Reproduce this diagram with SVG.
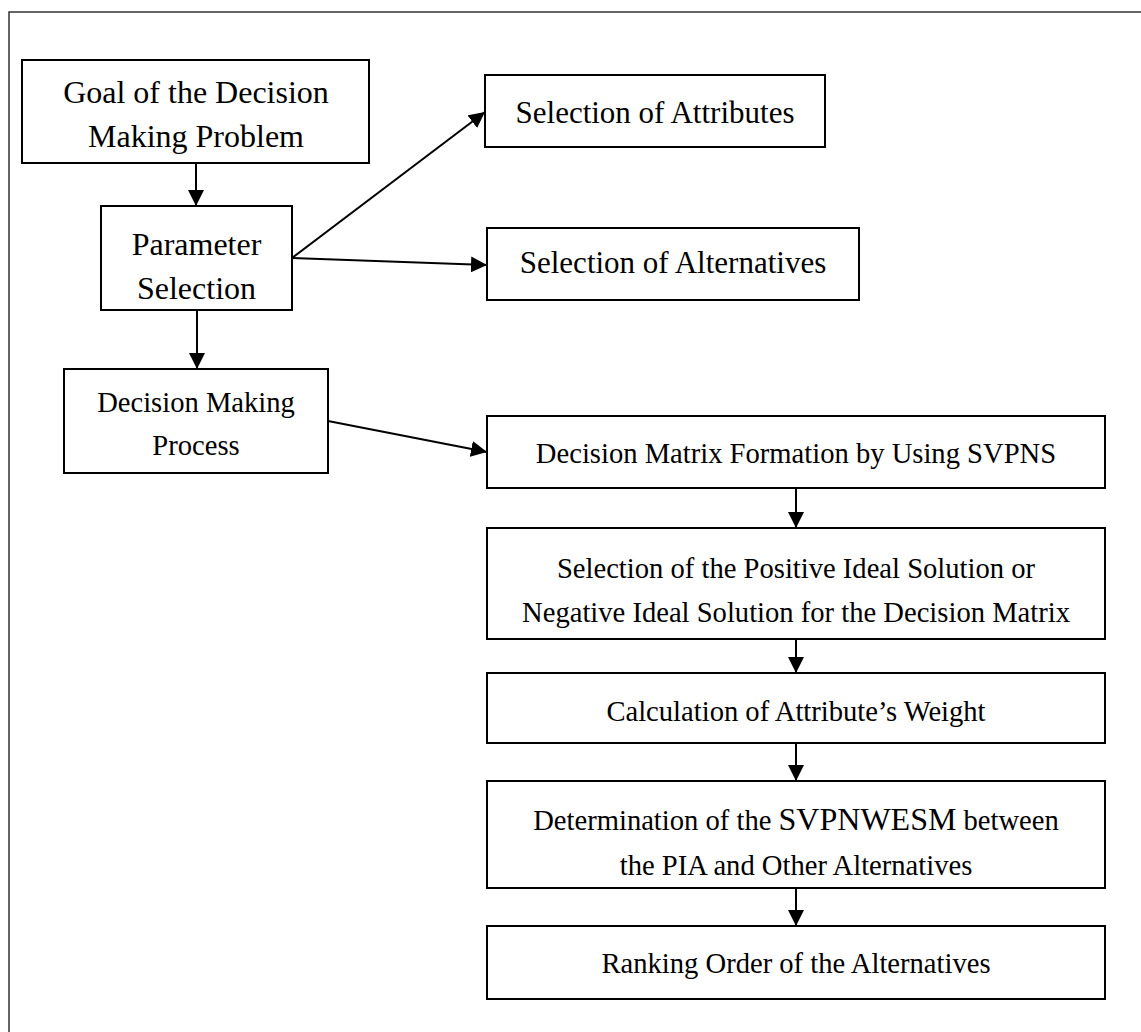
<svg xmlns="http://www.w3.org/2000/svg" width="1141" height="1032" viewBox="0 0 1141 1032">
<style>
  .box { fill: #ffffff; stroke: #000000; stroke-width: 2; }
  .t1 { font-family: "Liberation Serif", "Times New Roman", serif; font-size: 32px; fill: #000; text-anchor: middle; }
  .t2 { font-family: "Liberation Serif", "Times New Roman", serif; font-size: 31px; fill: #000; text-anchor: middle; }
  .t3 { font-family: "Liberation Serif", "Times New Roman", serif; font-size: 28.6px; fill: #000; text-anchor: middle; }
  .big { font-size: 32px; }
  .conn { stroke: #000; stroke-width: 2; fill: none; marker-end: url(#arr); }
</style>
<defs>
  <marker id="arr" markerUnits="userSpaceOnUse" markerWidth="16" markerHeight="16" refX="16" refY="8" orient="auto">
    <path d="M0,0 L16,8 L0,16 z" fill="#000"/>
  </marker>
</defs>
<rect x="0" y="0" width="1141" height="1032" fill="#ffffff"/>
<path d="M9,1032 V12 H1141" fill="none" stroke="#333" stroke-width="1.5"/>

<g id="connectors">
  <line class="conn" x1="196" y1="163" x2="196" y2="206"/>
  <line class="conn" x1="292" y1="258" x2="485" y2="112"/>
  <line class="conn" x1="292" y1="258" x2="487" y2="265"/>
  <line class="conn" x1="197" y1="310" x2="197" y2="369"/>
  <line class="conn" x1="328" y1="421" x2="487" y2="452"/>
  <line class="conn" x1="796" y1="488" x2="796" y2="528"/>
  <line class="conn" x1="796" y1="639" x2="796" y2="673"/>
  <line class="conn" x1="796" y1="743" x2="796" y2="781"/>
  <line class="conn" x1="796" y1="888" x2="796" y2="926"/>
</g>

<g id="goal">
  <rect class="box" x="22" y="60" width="347" height="103"/>
  <text class="t1" x="196" y="103">Goal of the Decision</text>
  <text class="t1" x="196" y="147">Making Problem</text>
</g>
<g id="parameter">
  <rect class="box" x="101" y="206" width="191" height="104"/>
  <text class="t1" x="196.5" y="255">Parameter</text>
  <text class="t1" x="196.5" y="299">Selection</text>
</g>
<g id="sel-attributes">
  <rect class="box" x="485" y="75" width="340" height="72"/>
  <text class="t2" x="655" y="123">Selection of Attributes</text>
</g>
<g id="sel-alternatives">
  <rect class="box" x="487" y="228" width="372" height="72"/>
  <text class="t2" x="673" y="273">Selection of Alternatives</text>
</g>
<g id="dmp">
  <rect class="box" x="64" y="369" width="264" height="104"/>
  <text class="t3" x="196" y="412">Decision Making</text>
  <text class="t3" x="196" y="455">Process</text>
</g>
<g id="matrix">
  <rect class="box" x="487" y="416" width="618" height="72"/>
  <text class="t3" x="796" y="463">Decision Matrix Formation by Using SVPNS</text>
</g>
<g id="pis">
  <rect class="box" x="487" y="528" width="618" height="111"/>
  <text class="t3" x="796" y="578">Selection of the Positive Ideal Solution or</text>
  <text class="t3" x="796" y="622">Negative Ideal Solution for the Decision Matrix</text>
</g>
<g id="weight">
  <rect class="box" x="487" y="673" width="618" height="70"/>
  <text class="t3" x="796" y="721">Calculation of Attribute’s Weight</text>
</g>
<g id="determination">
  <rect class="box" x="487" y="781" width="618" height="107"/>
  <text class="t3" x="796" y="830">Determination of the <tspan class="big">SVPNWESM</tspan> between</text>
  <text class="t3" x="796" y="875">the PIA and Other Alternatives</text>
</g>
<g id="ranking">
  <rect class="box" x="487" y="926" width="618" height="73"/>
  <text class="t3" x="796" y="973">Ranking Order of the Alternatives</text>
</g>
</svg>
